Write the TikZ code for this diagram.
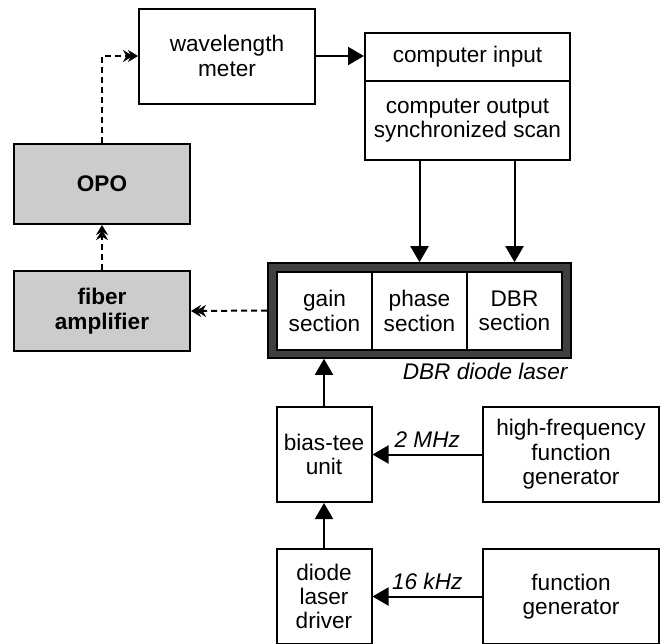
\documentclass[tikz,border=0pt]{standalone}
\usepackage{fontspec}
\setmainfont{Liberation Sans}
\usetikzlibrary{arrows.meta}
\newcommand{\diagfont}{\fontsize{11.3}{12.2}\selectfont}
\tikzstyle{unit} = [rectangle, minimum width=88pt, minimum height=47.5pt, text centered, align=center, draw=black, line width=1pt, fill=white, inner sep=1pt]
\tikzstyle{optic} = [unit, minimum height=40pt, fill=black!20, font=\diagfont\bfseries]
\tikzstyle{small} = [unit, minimum width=47.5pt]
\tikzstyle{section} = [unit, minimum width=47.5pt, minimum height=39pt]
\tikzstyle{frame} = [rectangle, minimum width=151.5pt, minimum height=47.5pt, draw=black, line width=0.8pt, fill=black!75]
\tikzstyle{arrow} = [line width=1pt,-{Triangle[length=8pt,width=9pt]}]
\tikzstyle{beam} = [line width=1pt, dash pattern=on 3pt off 2pt, -{Stealth[length=5pt,width=6pt,sep=-2.5pt]Stealth[length=5pt,width=6pt]}]
\tikzstyle{freq} = [anchor=south, inner sep=3pt, font=\diagfont\itshape]

\begin{document}
\begin{tikzpicture}[x=0.5pt, y=-0.5pt, node distance=71pt, font=\diagfont]

    \useasboundingbox (0,0) rectangle (664,643);

    \node (wlm) [unit] at (227,56) {wavelength\\meter};
    \node (compin) [unit, minimum width=102.5pt, minimum height=24pt] at (467.5,57) {computer input};
    \node (compout) [unit, minimum width=102.5pt, minimum height=39.5pt, below of=compin, yshift=39.25pt] {computer output\\synchronized scan};
    \node (opo) [optic] at (102,184) {OPO};
    \node (fiber) [optic, below of=opo, yshift=7.5pt] {fiber\\amplifier};

    \node (laser) [frame] at (419.5,310.5) {};
    \node (phase) [section] at (419.5,311) {phase\\section};
    \node (gain) [section, left of=phase, xshift=23.5pt] {gain\\section};
    \node (dbr) [section, right of=phase, xshift=-23.5pt] {DBR\\section};
    \node (lasername) [anchor=north east, inner sep=2pt, font=\diagfont\itshape] at (laser.south east) {DBR diode laser};

    \node (biastee) [small] at (324,454.5) {bias-tee\\unit};
    \node (hf) [unit, right of=biastee, xshift=52.5pt] {high-frequency\\function\\generator};
    \node (driver) [small, below of=biastee] {diode\\laser\\driver};
    \node (fg) [unit, right of=driver, xshift=52.5pt] {function\\generator};

    \draw [beam] (opo.north) |- (wlm.west);
    \draw [beam] (fiber.north) -- (opo.south);
    \draw [beam] (laser.west) -- (fiber.east);
    \draw [arrow] (wlm.east) -- (wlm.east -| compin.west);
    \draw [arrow] (compout.south -| phase) -- (laser.north -| phase);
    \draw [arrow] (compout.south -| dbr) -- (laser.north -| dbr);
    \draw [arrow] (biastee.north) -- (laser.south -| biastee);
    \draw [arrow] (driver.north) -- (biastee.south);
    \draw [arrow] (hf.west) -- node[freq] {2 MHz} (biastee.east);
    \draw [arrow] (fg.west) -- node[freq] {16 kHz} (driver.east);

\end{tikzpicture}
\end{document}
